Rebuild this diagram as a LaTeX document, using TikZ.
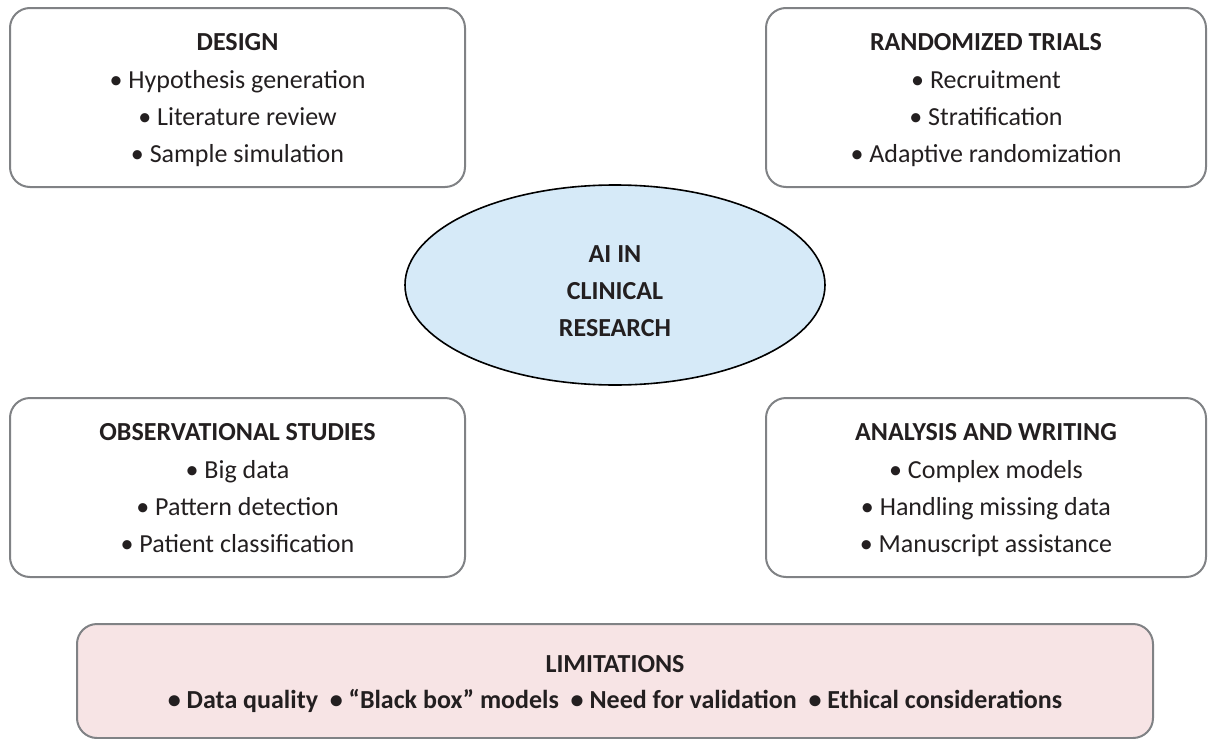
\documentclass[tikz,border=0pt]{standalone}
\usepackage{fontspec}
\setmainfont{Carlito}
\usetikzlibrary{shapes.geometric}
\definecolor{txt}{HTML}{231F20}
\definecolor{boxline}{HTML}{808285}
\definecolor{ellfill}{HTML}{D6EAF8}
\definecolor{limfill}{HTML}{F7E4E5}
\tikzset{
  panel/.style={draw=boxline, line width=2pt, rounded corners=20pt},
  ttl/.style={font=\fontsize{26}{26}\selectfont\bfseries, text=txt, anchor=base},
  itm/.style={font=\fontsize{26}{26}\selectfont, text=txt, anchor=base},
}
\begin{document}
\begin{tikzpicture}[x=1pt,y=-1pt]
\useasboundingbox (0,0) rectangle (1208,739);
% panels
\draw[panel] (10,8) rectangle (465,187);
\draw[panel] (766,8) rectangle (1206,187);
\draw[panel] (10,398) rectangle (465,577);
\draw[panel] (766,398) rectangle (1206,577);
\draw[panel, fill=limfill] (77,624) rectangle (1153,738);
% ellipse
\node[draw=black, line width=1.6pt, fill=ellfill, ellipse, minimum width=420pt, minimum height=200pt, inner sep=0pt] (core) at (615,285) {};
\node[ttl] (c1) at (615,262) {AI IN};
\node[ttl] (c2) at (615,299) {CLINICAL};
\node[ttl] (c3) at (615,336) {RESEARCH};
% design
\node[ttl] (d0) at (237.5,50) {DESIGN};
\node[itm] (d1) at (237.5,88) {• Hypothesis generation};
\node[itm] (d2) at (237.5,125) {• Literature review};
\node[itm] (d3) at (237.5,162) {• Sample simulation};
% randomized
\node[ttl] (r0) at (986,50) {RANDOMIZED TRIALS};
\node[itm] (r1) at (986,88) {• Recruitment};
\node[itm] (r2) at (986,125) {• Stratification};
\node[itm] (r3) at (986,162) {• Adaptive randomization};
% observational
\node[ttl] (o0) at (237.5,440) {OBSERVATIONAL STUDIES};
\node[itm] (o1) at (237.5,478) {• Big data};
\node[itm] (o2) at (237.5,515) {• Pattern detection};
\node[itm] (o3) at (237.5,552) {• Patient classification};
% analysis
\node[ttl] (a0) at (986,440) {ANALYSIS AND WRITING};
\node[itm] (a1) at (986,478) {• Complex models};
\node[itm] (a2) at (986,515) {• Handling missing data};
\node[itm] (a3) at (986,552) {• Manuscript assistance};
% limitations
\node[ttl] (l0) at (615,672) {LIMITATIONS};
\node[ttl] (l1) at (615,708) {• Data quality \ • “Black box” models \ • Need for validation \ • Ethical considerations};
\end{tikzpicture}
\end{document}
